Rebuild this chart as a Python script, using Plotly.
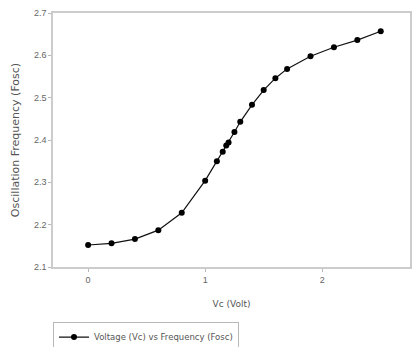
import plotly.graph_objects as go

vc = [0.0, 0.2, 0.4, 0.6, 0.8, 1.0, 1.1, 1.15, 1.18, 1.2, 1.25, 1.3, 1.4, 1.5, 1.6, 1.7, 1.9, 2.1, 2.3, 2.5]
fosc = [2.152, 2.156, 2.166, 2.187, 2.228, 2.304, 2.350, 2.372, 2.387, 2.394, 2.419, 2.443, 2.483, 2.518, 2.546, 2.568, 2.598, 2.619, 2.636, 2.657]
x_ticks = [0, 1, 2]
y_ticks = [2.1, 2.2, 2.3, 2.4, 2.5, 2.6, 2.7]

fig = go.Figure()
fig.add_trace(go.Scatter(
    x=vc, y=fosc, mode="lines+markers",
    name="Voltage (Vc) vs Frequency (Fosc)",
    line=dict(color="#111111", width=1.2),
    marker=dict(color="#000000", size=6, symbol="circle"),
))

axis_common = dict(
    showgrid=False, zeroline=False, showline=True, mirror=True,
    linecolor="#cccccc", linewidth=1.5,
    ticks="outside", ticklen=3, tickcolor="#b8b8b8",
    tickfont=dict(family="Liberation Sans, Arial", size=9, color="#666666"),
)

fig.update_layout(
    width=412, height=347,
    margin=dict(l=53, r=2, t=13, b=80, autoexpand=False),
    paper_bgcolor="white", plot_bgcolor="white",
    xaxis=dict(range=[-0.3, 2.75], tickvals=x_ticks,
               title=dict(text="Vc (Volt)", standoff=17,
                          font=dict(family="DejaVu Sans", size=9, color="#555555")),
               **axis_common),
    yaxis=dict(range=[2.1, 2.7], tickvals=y_ticks, tickformat=".1f",
               title=dict(text="Oscillation Frequency (Fosc)", standoff=12,
                          font=dict(family="DejaVu Sans", size=11, color="#555555")),
               **axis_common),
    showlegend=True,
    legend=dict(x=0, y=-0.215, xanchor="left", yanchor="top",
                bordercolor="#b8b8b8", borderwidth=1, bgcolor="white",
                font=dict(family="DejaVu Sans", size=8.5, color="#555555"),
                itemwidth=30),
)

fig.write_html("out.html")
